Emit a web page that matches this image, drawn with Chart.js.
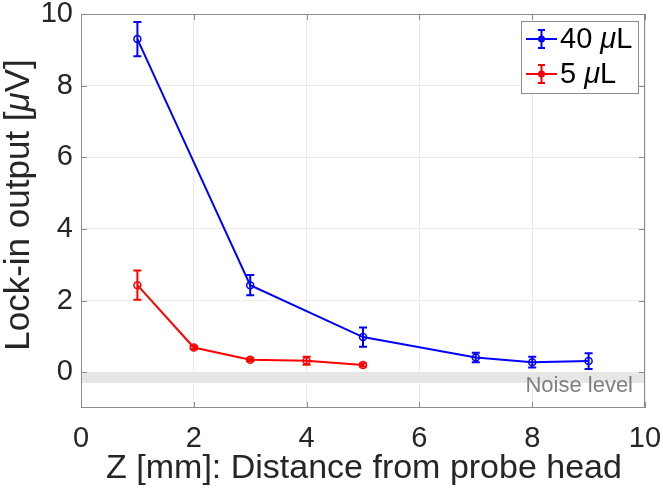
<!DOCTYPE html>
<html>
<head>
<meta charset="utf-8">
<script src="https://cdn.jsdelivr.net/npm/chart.js@4"></script>
<style>
  html, body { margin: 0; padding: 0; background: #fff; }
</style>
</head>
<body>
<canvas id="probeChart" width="663" height="494"></canvas>
<script>
// Z positions [mm] and lock-in readings [uV] with their error bars
const zLarge = [1, 3, 5, 7, 8, 9];
const signalLarge = [9.3, 2.43, 0.98, 0.41, 0.28, 0.31];
const errLarge = [0.48, 0.28, 0.27, 0.13, 0.15, 0.22];

const zSmall = [1, 2, 3, 4, 5];
const signalSmall = [2.43, 0.69, 0.35, 0.32, 0.2];
const errSmall = [0.41, 0.04, 0.04, 0.11, 0.04];

const xTicks = [0, 2, 4, 6, 8, 10];
const yTicks = [0, 2, 4, 6, 8, 10];
const noiseBand = [-0.3, 0];

const FONT = '"Liberation Sans", Arial, sans-serif';
const BLUE = '#0000ff';
const RED = '#ff0000';

function toPoints(xs, ys) {
    return xs.map((x, i) => ({ x: x, y: ys[i] }));
}

// grey band for the noise floor, under the data
const noisePlugin = {
    id: 'noise',
    beforeDatasetsDraw(chart) {
        const { ctx, chartArea, scales } = chart;
        const top = scales.y.getPixelForValue(noiseBand[1]);
        const bot = scales.y.getPixelForValue(noiseBand[0]);
        ctx.save();
        ctx.fillStyle = '#e6e6e6';
        ctx.fillRect(chartArea.left, top, chartArea.right - chartArea.left, bot - top);
        ctx.fillStyle = '#808080';
        ctx.font = '22px ' + FONT;
        ctx.textAlign = 'right';
        ctx.textBaseline = 'middle';
        ctx.fillText('Noise level', chartArea.right - 12, bot + 3);
        ctx.restore();
    }
};

const errorBarPlugin = {
    id: 'errorBars',
    afterDatasetsDraw(chart) {
        const { ctx, scales } = chart;
        chart.data.datasets.forEach(ds => {
            ctx.save();
            ctx.strokeStyle = ds.borderColor;
            ctx.lineWidth = 2;
            ds.data.forEach((p, i) => {
                const e = ds.errors[i];
                const px = scales.x.getPixelForValue(p.x);
                const top = scales.y.getPixelForValue(p.y + e);
                const bot = scales.y.getPixelForValue(p.y - e);
                ctx.beginPath();
                ctx.moveTo(px, top); ctx.lineTo(px, bot);
                ctx.moveTo(px - 4, top); ctx.lineTo(px + 4, top);
                ctx.moveTo(px - 4, bot); ctx.lineTo(px + 4, bot);
                ctx.stroke();
            });
            ctx.restore();
        });
    }
};

// box around the axes, inward tick marks, axis titles and legend
const framePlugin = {
    id: 'frame',
    afterDraw(chart) {
        const { ctx, chartArea: a, scales } = chart;
        ctx.save();
        ctx.strokeStyle = '#8c8c8c';
        ctx.lineWidth = 1;
        ctx.strokeRect(a.left + 0.5, a.top + 0.5, a.right - a.left - 1, a.bottom - a.top - 1);
        ctx.beginPath();
        xTicks.forEach(v => {
            const px = Math.round(scales.x.getPixelForValue(v)) + 0.5;
            ctx.moveTo(px, a.bottom); ctx.lineTo(px, a.bottom - 6);
            ctx.moveTo(px, a.top); ctx.lineTo(px, a.top + 6);
        });
        yTicks.forEach(v => {
            const py = Math.round(scales.y.getPixelForValue(v)) + 0.5;
            ctx.moveTo(a.left, py); ctx.lineTo(a.left + 6, py);
            ctx.moveTo(a.right, py); ctx.lineTo(a.right - 6, py);
        });
        ctx.stroke();

        // x title
        ctx.fillStyle = '#262626';
        ctx.font = '34px ' + FONT;
        ctx.textAlign = 'center';
        ctx.textBaseline = 'middle';
        ctx.fillText('Z [mm]: Distance from probe head', (a.left + a.right) / 2 + 1, 469);

        // y title with italic mu
        const parts = [['Lock-in output [', ''], ['\u03bc', 'italic '], ['V]', '']];
        ctx.save();
        ctx.translate(19, 205);
        ctx.rotate(-Math.PI / 2);
        let total = 0;
        parts.forEach(p => { ctx.font = p[1] + '35px ' + FONT; total += ctx.measureText(p[0]).width; });
        let x = -total / 2;
        ctx.textAlign = 'left';
        parts.forEach(p => {
            ctx.font = p[1] + '35px ' + FONT;
            ctx.fillText(p[0], x, 0);
            x += ctx.measureText(p[0]).width;
        });
        ctx.restore();

        // legend
        const lx = 521, ly = 21, lw = 117, lh = 72;
        ctx.fillStyle = '#fff';
        ctx.fillRect(lx, ly, lw, lh);
        ctx.strokeStyle = '#8c8c8c';
        ctx.lineWidth = 1;
        ctx.strokeRect(lx + 0.5, ly + 0.5, lw, lh);
        chart.data.datasets.forEach((ds, i) => {
            const cy = ly + 18 + i * 35;
            ctx.strokeStyle = ds.borderColor;
            ctx.fillStyle = ds.borderColor;
            ctx.lineWidth = 2;
            ctx.beginPath();
            ctx.moveTo(lx + 5, cy); ctx.lineTo(lx + 36, cy);
            ctx.moveTo(lx + 20.5, cy - 9); ctx.lineTo(lx + 20.5, cy + 9);
            ctx.moveTo(lx + 17, cy - 9); ctx.lineTo(lx + 24, cy - 9);
            ctx.moveTo(lx + 17, cy + 9); ctx.lineTo(lx + 24, cy + 9);
            ctx.stroke();
            ctx.beginPath();
            ctx.arc(lx + 20.5, cy, 3.5, 0, Math.PI * 2);
            ctx.fill();
            const segs = [[ds.label.split(' ')[0] + ' ', ''], ['\u03bc', 'italic '], ['L', '']];
            let tx = lx + 39;
            ctx.fillStyle = '#000';
            ctx.textAlign = 'left';
            ctx.textBaseline = 'middle';
            segs.forEach(s => {
                ctx.font = s[1] + '29px ' + FONT;
                ctx.fillText(s[0], tx, cy + 1);
                tx += ctx.measureText(s[0]).width;
            });
        });
        ctx.restore();
    }
};

const chart = new Chart(document.getElementById('probeChart').getContext('2d'), {
    type: 'scatter',
    data: {
        datasets: [{
            label: '40 \u03bcL',
            data: toPoints(zLarge, signalLarge),
            errors: errLarge,
            showLine: true,
            borderColor: BLUE,
            backgroundColor: '#fff',
            borderWidth: 2,
            pointRadius: 3.5,
            pointBorderWidth: 1.5,
            pointBorderColor: BLUE,
            pointBackgroundColor: 'rgba(255,255,255,0)'
        }, {
            label: '5 \u03bcL',
            data: toPoints(zSmall, signalSmall),
            errors: errSmall,
            showLine: true,
            borderColor: RED,
            backgroundColor: '#fff',
            borderWidth: 2,
            pointRadius: 3.5,
            pointBorderWidth: 1.5,
            pointBorderColor: RED,
            pointBackgroundColor: 'rgba(255,255,255,0)'
        }]
    },
    options: {
        responsive: false,
        animation: false,
        layout: { padding: { top: 14, right: 18, left: 0, bottom: 0 } },
        plugins: {
            legend: { display: false },
            tooltip: { enabled: false }
        },
        scales: {
            x: {
                type: 'linear',
                min: 0,
                max: 10,
                afterBuildTicks: axis => { axis.ticks = xTicks.map(v => ({ value: v })); },
                afterFit: axis => { axis.height = 86; axis.paddingLeft = 0; axis.paddingRight = 0; },
                grid: { color: '#ebebeb', drawTicks: false },
                border: { display: false },
                ticks: { padding: 14, color: '#262626', font: { family: FONT, size: 29 } }
            },
            y: {
                min: -1,
                max: 10,
                afterBuildTicks: axis => { axis.ticks = yTicks.map(v => ({ value: v })); },
                afterFit: axis => { axis.width = 81; axis.paddingTop = 0; axis.paddingBottom = 0; },
                grid: { color: '#ebebeb', drawTicks: false },
                border: { display: false },
                ticks: { padding: 8, color: '#262626', font: { family: FONT, size: 29 } }
            }
        }
    },
    plugins: [noisePlugin, errorBarPlugin, framePlugin]
});
</script>
</body>
</html>
